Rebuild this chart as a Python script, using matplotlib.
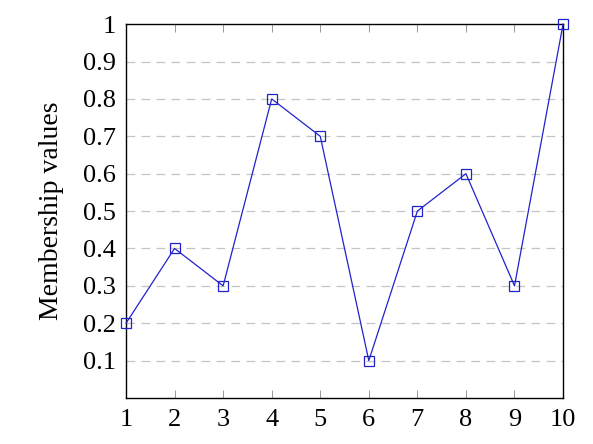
import matplotlib
matplotlib.use("Agg")
import matplotlib.pyplot as plt

x = [1, 2, 3, 4, 5, 6, 7, 8, 9, 10]
membership = [0.2, 0.4, 0.3, 0.8, 0.7, 0.1, 0.5, 0.6, 0.3, 1.0]
yticks = [0.1, 0.2, 0.3, 0.4, 0.5, 0.6, 0.7, 0.8, 0.9, 1]
ylabels = ["0.1", "0.2", "0.3", "0.4", "0.5", "0.6", "0.7", "0.8", "0.9", "1"]

plt.rcParams['font.family'] = 'serif'
plt.rcParams['font.serif'] = ['Liberation Serif', 'Times New Roman', 'DejaVu Serif']
plt.rcParams['font.size'] = 19

fig = plt.figure(figsize=(5.93, 4.44), dpi=100)
ax = fig.add_axes([0.2125, 0.1036, 0.737, 0.842])

for yv in yticks[:-1]:
    ax.axhline(yv, color='#c4c4c4', lw=0.9, ls=(0, (7, 5)), zorder=1)

ax.plot(x, membership, color='#2222cc', lw=0.9, marker='s', markersize=7,
        markerfacecolor='none', markeredgecolor='#2222cc', markeredgewidth=0.9,
        clip_on=False, zorder=3)

ax.set_xlim(1, 10)
ax.set_ylim(0, 1)
ax.set_xticks(x)
ax.set_yticks(yticks)
ax.set_yticklabels(ylabels)
ax.tick_params(axis='x', direction='in', top=True, length=6, width=0.6,
               color='#888888', pad=8)
ax.tick_params(axis='y', length=0, pad=7)
for s in ax.spines.values():
    s.set_linewidth(1.0)
ax.set_ylabel("Membership values", fontsize=20, labelpad=14)

fig.savefig("out.png", dpi=100)
